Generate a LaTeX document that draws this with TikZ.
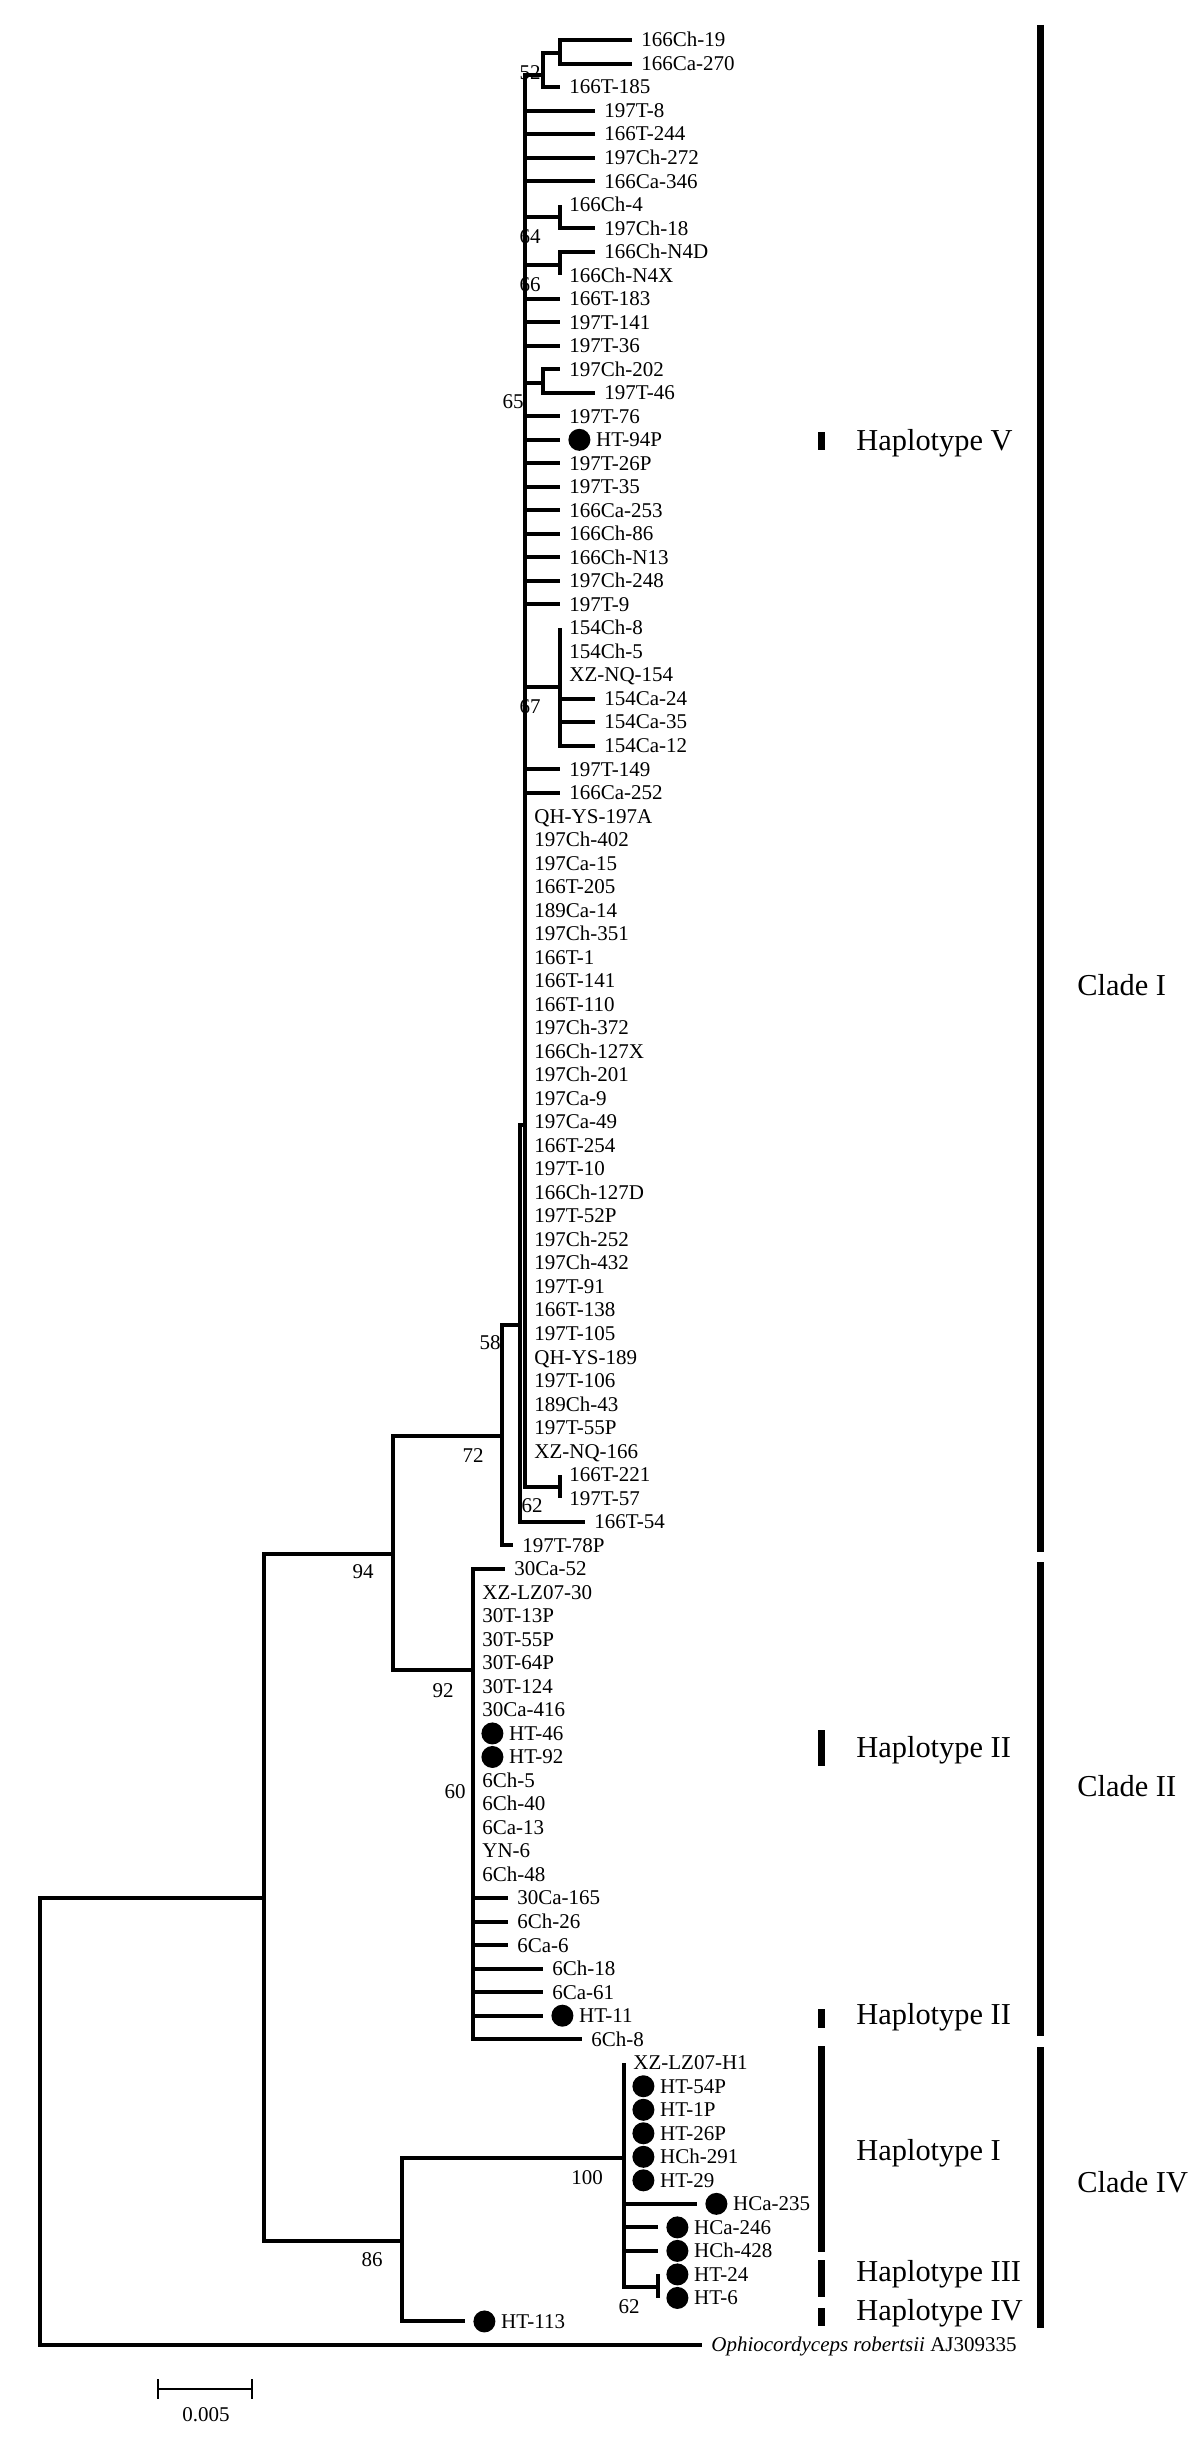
\documentclass[tikz,border=0pt]{standalone}
\usepackage{fontspec}
\setmainfont{Liberation Serif}
\usetikzlibrary{positioning}

\begin{document}
\begin{tikzpicture}[x=.5pt,y=-.5pt,line join=miter,
  branch/.style={line width=2pt},
  leaf/.style={inner sep=0pt,text height=1.5ex,text depth=0pt,font=\fontsize{10.5}{12}\selectfont},
  hdot/.style={circle,fill,inner sep=0pt,minimum size=11pt},
  boot/.style={inner sep=0pt,font=\fontsize{10.5}{12}\selectfont},
  tagbar/.style={line width=3.5pt},
  tagtext/.style={anchor=west,inner sep=0pt,font=\fontsize{15.2}{18}\selectfont}]
\useasboundingbox (0,0) rectangle (1200,2445);
\def\dy{23.52}

% internal nodes of the tree
\foreach \c/\nx/\ny in {nB/560/53, nA/543/75, nC/560/217, nD/560/265, nE/543/383,
  nF/560/687, nG/560/1487, nI/525/1125, n58/520/1325, n72/502/1436, n92/473/1670,
  n94/393/1554, nH/624/2158, nJ/658/2287, n86/402/2241, nM/264/1898, nR/40/2123}
  \coordinate (\c) at (\nx,\ny);

\foreach \pa/\ch in {nA/nB, nI/nA, nI/nC, nI/nD, nI/nE, nI/nF, nI/nG, n58/nI, n72/n58,
  n94/n72, n94/n92, nM/n94, nM/n86, nR/nM, n86/nH, nH/nJ}
  \draw[branch] (\pa) |- (\ch);

% leaves: number/parent/tip/dot/label
\foreach \i/\up/\ex/\hd/\lab in {
  1/nB/632/0/166Ch-19, 2/nB/632/0/166Ca-270, 3/nA/560/0/166T-185,
  4/nI/595/0/197T-8, 5/nI/595/0/166T-244, 6/nI/595/0/197Ch-272, 7/nI/595/0/166Ca-346,
  8/nC/560/0/166Ch-4, 9/nC/595/0/197Ch-18, 10/nD/595/0/166Ch-N4D, 11/nD/560/0/166Ch-N4X,
  12/nI/560/0/166T-183, 13/nI/560/0/197T-141, 14/nI/560/0/197T-36,
  15/nE/560/0/197Ch-202, 16/nE/595/0/197T-46,
  17/nI/560/0/197T-76, 18/nI/560/1/HT-94P, 19/nI/560/0/197T-26P, 20/nI/560/0/197T-35,
  21/nI/560/0/166Ca-253, 22/nI/560/0/166Ch-86, 23/nI/560/0/166Ch-N13,
  24/nI/560/0/197Ch-248, 25/nI/560/0/197T-9,
  26/nF/560/0/154Ch-8, 27/nF/560/0/154Ch-5, 28/nF/560/0/XZ-NQ-154,
  29/nF/595/0/154Ca-24, 30/nF/595/0/154Ca-35, 31/nF/595/0/154Ca-12,
  32/nI/560/0/197T-149, 33/nI/560/0/166Ca-252,
  34/nI/525/0/QH-YS-197A, 35/nI/525/0/197Ch-402, 36/nI/525/0/197Ca-15,
  37/nI/525/0/166T-205, 38/nI/525/0/189Ca-14, 39/nI/525/0/197Ch-351,
  40/nI/525/0/166T-1, 41/nI/525/0/166T-141, 42/nI/525/0/166T-110,
  43/nI/525/0/197Ch-372, 44/nI/525/0/166Ch-127X, 45/nI/525/0/197Ch-201,
  46/nI/525/0/197Ca-9, 47/nI/525/0/197Ca-49, 48/nI/525/0/166T-254,
  49/nI/525/0/197T-10, 50/nI/525/0/166Ch-127D, 51/nI/525/0/197T-52P,
  52/nI/525/0/197Ch-252, 53/nI/525/0/197Ch-432, 54/nI/525/0/197T-91,
  55/nI/525/0/166T-138, 56/nI/525/0/197T-105, 57/nI/525/0/QH-YS-189,
  58/nI/525/0/197T-106, 59/nI/525/0/189Ch-43, 60/nI/525/0/197T-55P,
  61/nI/525/0/XZ-NQ-166, 62/nG/560/0/166T-221, 63/nG/560/0/197T-57,
  64/n58/585/0/166T-54, 65/n72/513/0/197T-78P,
  66/n92/505/0/30Ca-52, 67/n92/473/0/XZ-LZ07-30, 68/n92/473/0/30T-13P,
  69/n92/473/0/30T-55P, 70/n92/473/0/30T-64P, 71/n92/473/0/30T-124,
  72/n92/473/0/30Ca-416, 73/n92/473/1/HT-46, 74/n92/473/1/HT-92,
  75/n92/473/0/6Ch-5, 76/n92/473/0/6Ch-40, 77/n92/473/0/6Ca-13,
  78/n92/473/0/YN-6, 79/n92/473/0/6Ch-48,
  80/n92/508/0/30Ca-165, 81/n92/508/0/6Ch-26, 82/n92/508/0/6Ca-6,
  83/n92/543/0/6Ch-18, 84/n92/543/0/6Ca-61, 85/n92/543/1/HT-11, 86/n92/582/0/6Ch-8,
  87/nH/624/0/XZ-LZ07-H1, 88/nH/624/1/HT-54P, 89/nH/624/1/HT-1P, 90/nH/624/1/HT-26P,
  91/nH/624/1/HCh-291, 92/nH/624/1/HT-29, 93/nH/697/1/HCa-235,
  94/nH/658/1/HCa-246, 95/nH/658/1/HCh-428, 96/nJ/658/1/HT-24, 97/nJ/658/1/HT-6,
  98/n86/465/1/HT-113}{
  \pgfmathsetmacro\ly{40+(\i-1)*\dy}
  \coordinate (e\i) at (\ex,\ly);
  \draw[branch] (\up) |- (e\i);
  \ifnum\hd=1
    \node[hdot,right=4pt of e\i] (d\i) {};
    \node[leaf,right=2.5pt of d\i] (t\i) {\lab};
  \else
    \node[leaf,right=4.5pt of e\i] (t\i) {\lab};
  \fi
}

% outgroup
\coordinate (e99) at (702,{40+98*\dy});
\draw[branch] (nR) |- (e99);
\node[leaf,right=4.5pt of e99] (t99) {\textit{Ophiocordyceps robertsii} AJ309335};

% bootstrap values
\foreach \nx/\ny/\bv [count=\k] in {530/73/52, 530/237/64, 530/285/66, 513/402/65,
  530/707/67, 490/1343/58, 532/1506/62, 473/1456/72, 363/1572/94, 443/1691/92,
  455/1792/60, 372/2260/86, 587/2178/100, 629/2307/62}
  \node[boot] (b\k) at (\nx,\ny) {\bv};

% haplotypes and clades
\foreach \ya/\yb/\yt/\hn [count=\k] in {432/450/443/V, 1730/1766/1750/II,
  2009/2028/2017/II, 2046/2252/2153/I, 2260/2297/2274/III, 2308/2326/2313/IV}{
  \draw[tagbar] (821,\ya) -- (821,\yb);
  \node[tagtext] (h\k) at (856,\yt) {Haplotype \hn};
}
\foreach \ya/\yb/\yt/\hn [count=\k] in {25/1552/985/I, 1562/2036/1786/II, 2047/2328/2182/IV}{
  \draw[tagbar] (1040,\ya) -- (1040,\yb);
  \node[tagtext] (c\k) at (1077,\yt) {Clade \hn};
}

% scale bar
\coordinate (s1) at (158,2389);
\coordinate (s2) at (252,2389);
\draw[line width=1.2pt] ([yshift=5pt]s1) -- ([yshift=-5pt]s1) (s1) -- (s2)
  ([yshift=5pt]s2) -- ([yshift=-5pt]s2);
\node[boot] (sc) at (206,2415) {0.005};
\end{tikzpicture}
\end{document}
